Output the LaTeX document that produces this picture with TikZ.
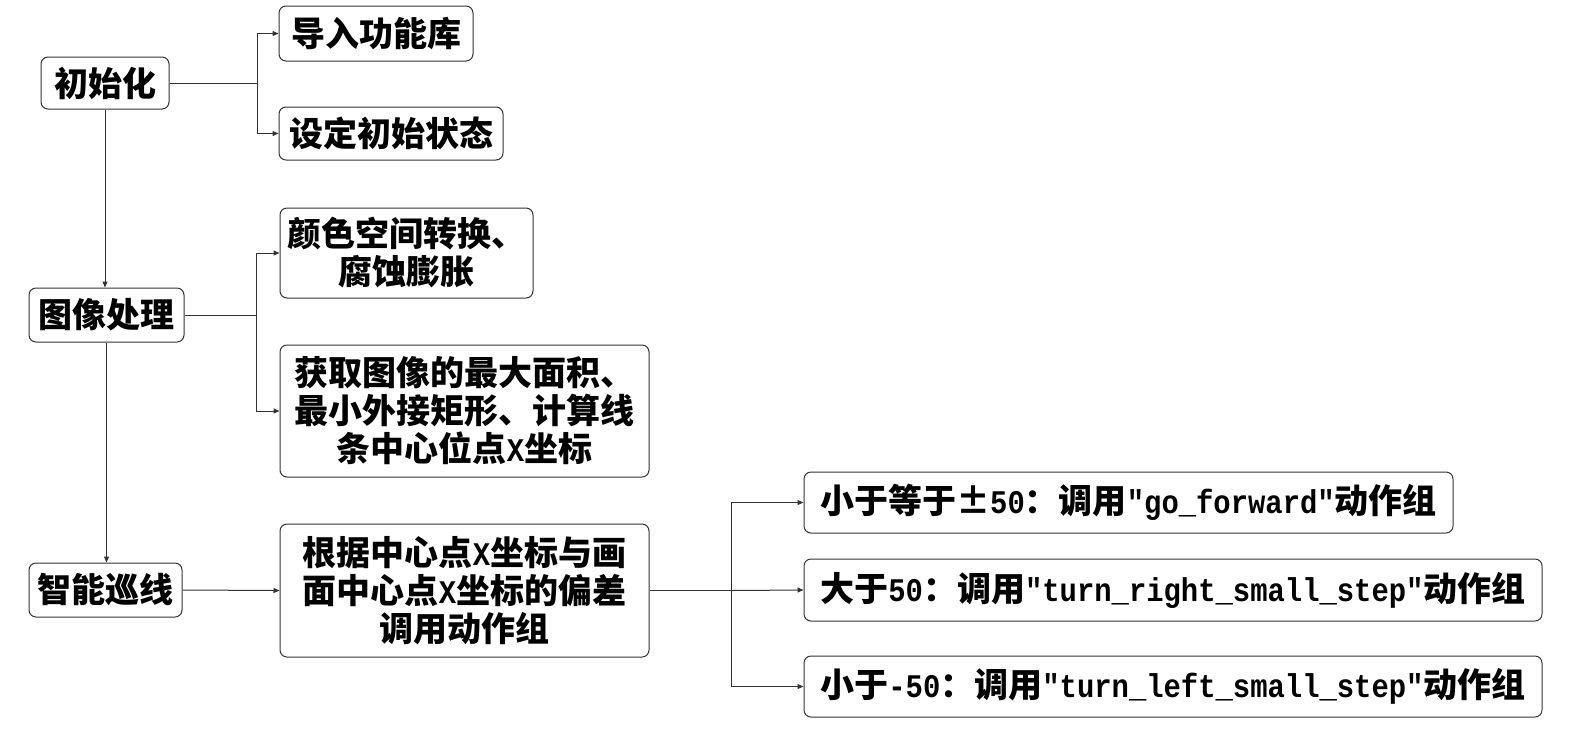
\documentclass[tikz,border=0pt]{standalone}
\usepackage{fontspec}
\setmainfont{Noto Sans CJK SC}
\newfontfamily\latfont{Liberation Mono}[FakeStretch=0.875]
\usetikzlibrary{arrows.meta}
\definecolor{linecol}{HTML}{333333}
\newcommand\boxfont{\fontsize{34}{38}\selectfont\bfseries}
\newcommand\mlat[1]{{\latfont\fontsize{33}{38}\selectfont\bfseries #1}}
\tikzset{
  box/.style={draw=linecol, line width=1pt, rounded corners=7pt, inner sep=0pt,
              align=center, font=\boxfont, text=black},
  link/.style={draw=linecol, line width=1pt},
  arr/.style={link, -{Triangle[length=6pt,width=5pt]}},
}
\begin{document}
\begin{tikzpicture}[x=1pt, y=-1pt]
\useasboundingbox (0,0) rectangle (1581,748);

% main stages
\node[box, minimum width=128, minimum height=52] (init)  at (105,83)     {初始化};
\node[box, minimum width=155, minimum height=54] (proc)  at (106.5,315)  {图像处理};
\node[box, minimum width=153, minimum height=54] (track) at (105.5,590)  {智能巡线};

% details of each stage
\node[box, minimum width=194, minimum height=55] (imp)   at (376,33.5)   {导入功能库};
\node[box, minimum width=224, minimum height=53] (set)   at (391,133.5)  {设定初始状态};
\node[box, minimum width=253, minimum height=90] (color) at (406.5,253)  {颜色空间转换、\\腐蚀膨胀};
\node[box, minimum width=369, minimum height=132] (area) at (464.5,411)  {获取图像的最大面积、\\最小外接矩形、计算线\\条中心位点\mlat{X}坐标};
\node[box, minimum width=369, minimum height=133] (calc) at (464.5,590.5) {根据中心点\mlat{X}坐标与画\\面中心点\mlat{X}坐标的偏差\\调用动作组};

% action groups
\node[box, minimum width=649, minimum height=61] (fwd)   at (1128.5,502.5) {小于等于±\mlat{50}：调用\mlat{"go\_forward"}动作组};
\node[box, minimum width=738, minimum height=62] (right) at (1173,590)      {大于\mlat{50}：调用\mlat{"turn\_right\_small\_step"}动作组};
\node[box, minimum width=738, minimum height=61] (left)  at (1173,686.5)    {小于\mlat{-50}：调用\mlat{"turn\_left\_small\_step"}动作组};

% branch columns
\coordinate (j1) at (257,0);
\coordinate (j2) at (256,0);
\coordinate (j3) at (731,0);

% stage sequence
\draw[arr] (init.south) -- (init.south |- proc.north);
\draw[arr] (proc.south) -- (proc.south |- track.north);

% initialisation branches
\draw[link] (init.east) -- (init.east -| j1);
\draw[arr] (init.east -| j1) |- (imp.west);
\draw[arr] (init.east -| j1) |- (set.west);

% image processing branches
\draw[link] (proc.east) -- (proc.east -| j2);
\draw[arr] (proc.east -| j2) |- (color.west);
\draw[arr] (proc.east -| j2) |- (area.west);

% line tracking
\draw[arr] (track.east) -- (calc.west);
\draw[link] (calc.east) -- (calc.east -| j3);
\draw[arr] (calc.east -| j3) |- (fwd.west);
\draw[arr] (calc.east -| j3) -- (right.west);
\draw[arr] (calc.east -| j3) |- (left.west);
\end{tikzpicture}
\end{document}
